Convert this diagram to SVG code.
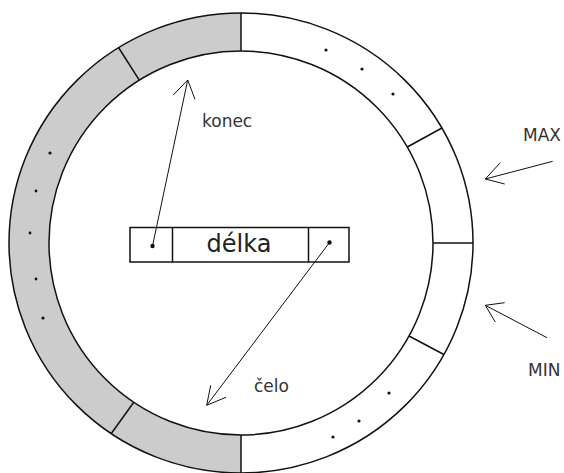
<svg xmlns="http://www.w3.org/2000/svg" width="564" height="473" viewBox="0 0 564 473">
<style>
.ring{fill:none;stroke:#111;stroke-width:1.5}
.div{stroke:#111;stroke-width:1.5}
.arr{fill:none;stroke:#111;stroke-width:1}
.dot{fill:#111}
.lbl{font-family:"DejaVu Sans",Verdana,sans-serif;font-size:17px;fill:#333}
.big{font-family:"DejaVu Sans",Verdana,sans-serif;font-size:24px;fill:#222;text-anchor:middle}
</style>
<rect width="564" height="473" fill="#fff"/>
<g id="buffer">
<path d="M241,13 A232,230 0 0 0 241,473 L241,435 A192,192 0 0 1 241,51 Z" fill="#cccccc"/>
<ellipse class="ring" cx="241" cy="243" rx="232" ry="230"/>
<circle class="ring" cx="241" cy="243" r="192"/>
<line class="div" x1="241" y1="51" x2="241" y2="13"/>
<line class="div" x1="433" y1="243" x2="473" y2="243"/>
<line class="div" x1="241" y1="435" x2="241" y2="473"/>
<line class="div" x1="139.3" y1="80.2" x2="118.5" y2="47.5" stroke-width="1"/>
<line class="div" x1="407.3" y1="147" x2="441.9" y2="128"/>
<line class="div" x1="409" y1="336" x2="443.9" y2="354.5"/>
<line class="div" x1="133.6" y1="402.5" x2="111.3" y2="433.5" stroke-width="1"/>
<circle class="dot" cx="50" cy="153" r="1.6"/>
<circle class="dot" cx="36" cy="191" r="1.4"/>
<circle class="dot" cx="30" cy="233" r="1.4"/>
<circle class="dot" cx="36" cy="279" r="1.4"/>
<circle class="dot" cx="43" cy="318" r="1.6"/>
<circle class="dot" cx="326" cy="50" r="1.6"/>
<circle class="dot" cx="362" cy="69" r="1.6"/>
<circle class="dot" cx="393" cy="94" r="1.6"/>
<circle class="dot" cx="389" cy="393" r="1.6"/>
<circle class="dot" cx="359" cy="421" r="1.6"/>
<circle class="dot" cx="333" cy="437" r="1.6"/>
</g>
<g id="record">
<rect x="130" y="227.5" width="219" height="34.5" fill="#fff" stroke="#111" stroke-width="1.5"/>
<line class="div" x1="172.5" y1="227.5" x2="172.5" y2="262"/>
<line class="div" x1="308.5" y1="227.5" x2="308.5" y2="262"/>
<text class="big" x="239" y="252">délka</text>
<circle class="dot" cx="152.5" cy="246" r="2.2"/>
<circle class="dot" cx="329.5" cy="242.5" r="2.2"/>
</g>
<g id="connectors">
<path class="arr" d="M152.5,246 L187.7,80 M173.3,95 L187.7,80 L195,99.3"/>
<path class="arr" d="M329.5,242.5 L206.7,405.3 M210.7,385.3 L206.7,405.3 L226,397.3"/>
<path class="arr" d="M552.7,161.3 L485.3,179 M500.3,162.7 L485.3,179 L504.7,184"/>
<path class="arr" d="M547,337.7 L485.3,305.3 M504.7,302.7 L485.3,305.3 L495.3,322"/>
</g>
<g id="labels">
<text class="lbl" x="202" y="127">konec</text>
<text class="lbl" x="254" y="392">čelo</text>
<text class="lbl" x="523" y="141">MAX</text>
<text class="lbl" x="528" y="376">MIN</text>
</g>
</svg>
